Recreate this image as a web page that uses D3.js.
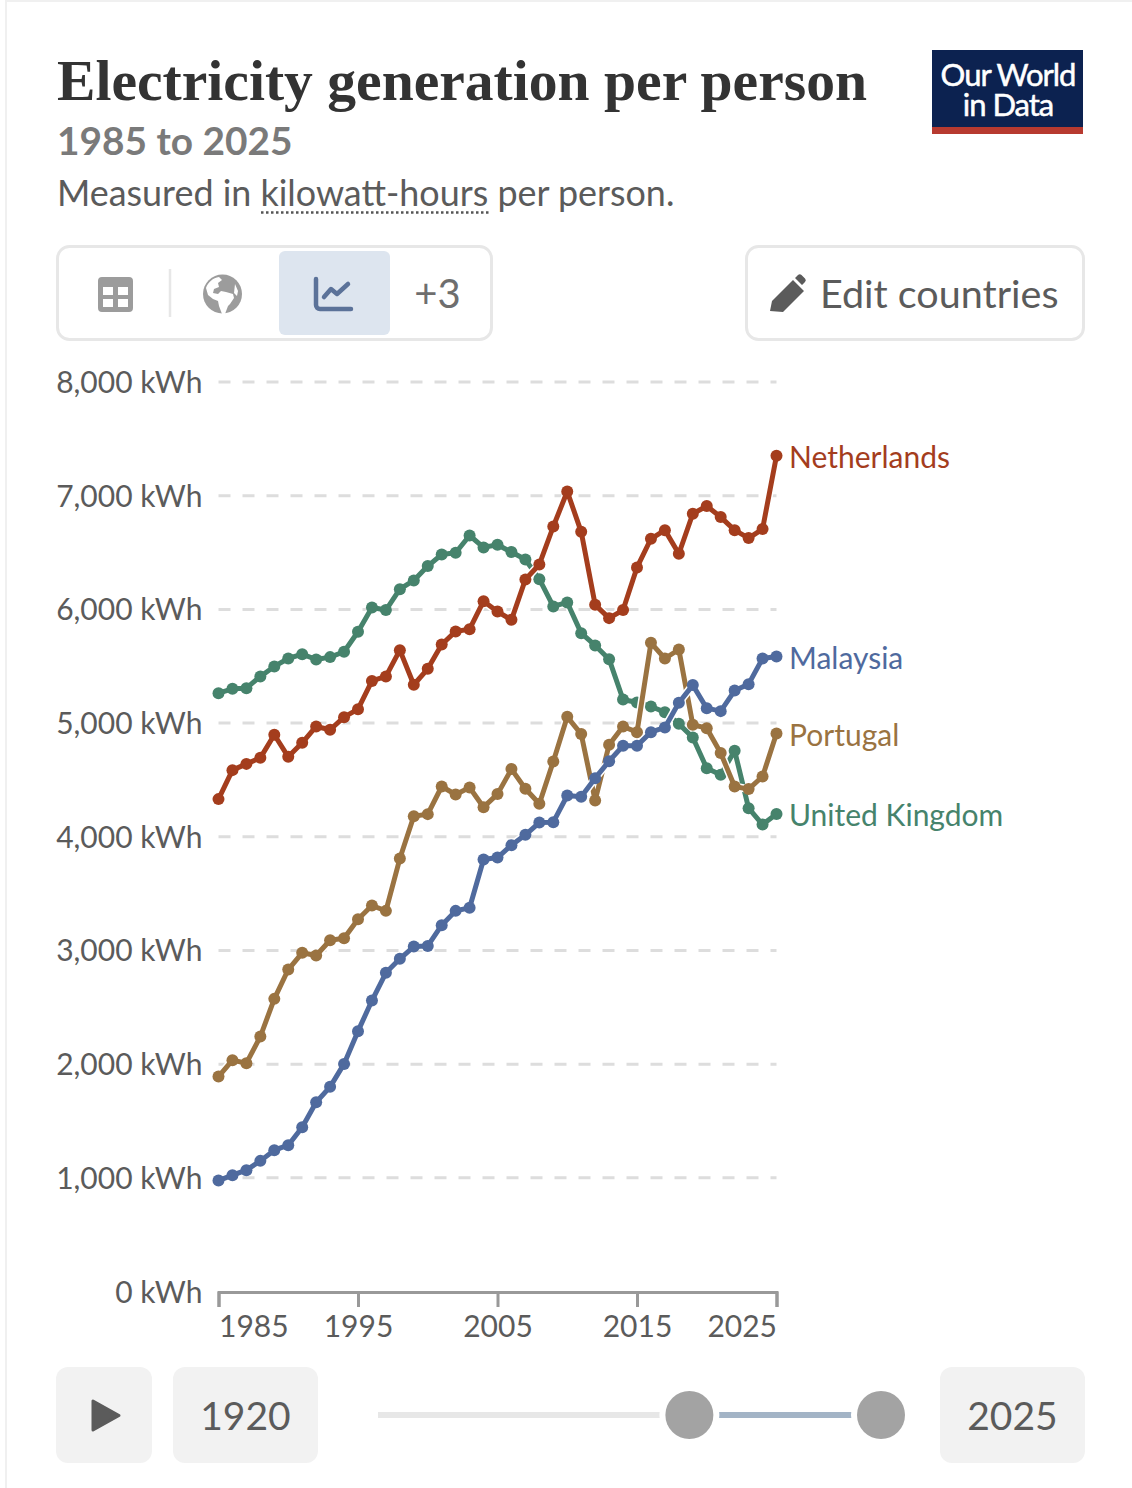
<!DOCTYPE html>
<html>
<head>
<meta charset="utf-8">
<script src="https://cdn.jsdelivr.net/npm/d3@7"></script>
<style>
  body { margin: 0; background: #fff; }
  svg { display: block; }
  text { font-family: Lato, sans-serif; }
</style>
</head>
<body>
<div id="chart"></div>
<script>
var years = [1985, 1986, 1987, 1988, 1989, 1990, 1991, 1992, 1993, 1994, 1995, 1996, 1997, 1998,
    1999, 2000, 2001, 2002, 2003, 2004, 2005, 2006, 2007, 2008, 2009, 2010, 2011, 2012, 2013,
    2014, 2015, 2016, 2017, 2018, 2019, 2020, 2021, 2022, 2023, 2024, 2025];

var unitedKingdom = [5263, 5301, 5307, 5410, 5498, 5568, 5606, 5559, 5580, 5627, 5803, 6017, 5994, 6178,
    6254, 6381, 6483, 6498, 6650, 6545, 6568, 6504, 6439, 6266, 6026, 6061, 5791, 5683, 5562,
    5207, 5181, 5146, 5096, 4993, 4873, 4603, 4545, 4756, 4251, 4107, 4201];
var portugal = [1891, 2035, 2008, 2243, 2574, 2832, 2979, 2955, 3090, 3108, 3275, 3395, 3348, 3808,
    4181, 4199, 4442, 4372, 4433, 4260, 4375, 4595, 4422, 4290, 4662, 5055, 4903, 4319, 4809,
    4970, 4920, 5706, 5568, 5647, 4985, 4955, 4736, 4442, 4419, 4530, 4908];
var malaysia = [976, 1023, 1067, 1149, 1243, 1287, 1445, 1665, 1800, 2002, 2290, 2559, 2803, 2926,
    3034, 3040, 3222, 3348, 3375, 3800, 3817, 3926, 4017, 4125, 4128, 4363, 4351, 4515, 4665,
    4800, 4800, 4920, 4961, 5178, 5334, 5131, 5105, 5286, 5342, 5568, 5586];
var netherlands = [4331, 4586, 4641, 4694, 4897, 4703, 4826, 4970, 4941, 5052, 5122, 5371, 5410, 5641,
    5337, 5477, 5691, 5806, 5826, 6072, 5981, 5908, 6263, 6395, 6729, 7037, 6682, 6040, 5923,
    5994, 6369, 6621, 6697, 6489, 6841, 6909, 6812, 6697, 6627, 6706, 7351];

var yTicks = [0, 1000, 2000, 3000, 4000, 5000, 6000, 7000, 8000];
var xTicks = [1985, 1995, 2005, 2015, 2025];

var seriesNames = ["United Kingdom", "Portugal", "Malaysia", "Netherlands"];
var seriesValues = [unitedKingdom, portugal, malaysia, netherlands];
var seriesColors = ["#46836c", "#9a7341", "#4f6a9e", "#a43d1d"];

var startYear = 1920;
var endYear = 2025;

var width = 1132;
var height = 1488;
var textColor = "#5b5b5b";
var boxStroke = "#e7e7e7";
var buttonFill = "#f2f2f2";

var svg = d3.select("#chart")
    .append("svg")
    .attr("width", width)
    .attr("height", height);

// marco de la tarjeta
svg.append("path")
    .attr("d", "M6 1488V1H1132")
    .attr("fill", "none")
    .attr("stroke", "#f0f0f0")
    .attr("stroke-width", 2);

// Título
svg.append("text")
    .attr("x", 57)
    .attr("y", 100)
    .attr("textLength", 810)
    .attr("lengthAdjust", "spacingAndGlyphs")
    .style("font-family", "'Liberation Serif', serif")
    .style("font-size", "58px")
    .style("font-weight", 700)
    .style("fill", "#333333")
    .text("Electricity generation per person");

svg.append("text")
    .attr("x", 57)
    .attr("y", 155)
    .style("font-size", "38.800px")
    .style("font-weight", 700)
    .style("fill", "#7a7a7a")
    .text("1985 to 2025");

svg.append("text")
    .attr("x", 57)
    .attr("y", 206)
    .style("font-size", "35.900px")
    .style("fill", textColor)
    .text("Measured in kilowatt-hours per person.");

svg.append("line")
    .attr("x1", 261)
    .attr("x2", 489)
    .attr("y1", 212.5)
    .attr("y2", 212.5)
    .attr("stroke", "#555")
    .attr("stroke-width", 2.5)
    .attr("stroke-dasharray", "2.500,2.500");

// Logo
var logo = svg.append("g");
logo.append("rect").attr("x", 932).attr("y", 50).attr("width", 151).attr("height", 84).attr("fill", "#0c2250");
logo.append("rect").attr("x", 932).attr("y", 127).attr("width", 151).attr("height", 7).attr("fill", "#b73a30");
logo.selectAll("text")
    .data(["Our World", "in Data"])
    .enter()
    .append("text")
    .attr("x", 1008)
    .attr("y", (d, i) => 86 + i * 30)
    .attr("text-anchor", "middle")
    .style("font-size", "31px")
    .style("letter-spacing", "-1px")
    .style("fill", "#fff")
    .style("stroke", "#fff")
    .style("stroke-width", 0.5)
    .text((d) => d);

// Botones de arriba
svg.append("rect")
    .attr("x", 57.5).attr("y", 246.5).attr("width", 434).attr("height", 93).attr("rx", 12)
    .attr("fill", "#fff").attr("stroke", boxStroke).attr("stroke-width", 3);
svg.append("rect")
    .attr("x", 279).attr("y", 251).attr("width", 111).attr("height", 84).attr("rx", 6)
    .attr("fill", "#dde5ef");
svg.append("line")
    .attr("x1", 170).attr("x2", 170).attr("y1", 269).attr("y2", 317)
    .attr("stroke", boxStroke).attr("stroke-width", 2.5);

// icono tabla
svg.append("path")
    .attr("fill", "#9c9c9c")
    .attr("fill-rule", "evenodd")
    .attr("d", "M102 277h27a4 4 0 0 1 4 4v27a4 4 0 0 1-4 4h-27a4 4 0 0 1-4-4v-27a4 4 0 0 1 4-4z"
        + "M103 287v8h10v-8zM118 287v8h10v-8zM103 299v8h10v-8zM118 299v8h10v-8z");

// icono globo
svg.append("circle").attr("cx", 222.5).attr("cy", 294).attr("r", 19.5).attr("fill", "#9c9c9c");
svg.append("path")
    .attr("fill", "#fff")
    .attr("d", "M206 288c2-6 7-10 13-11l3 3-4 3 1 4-5 2-1 4 5 1 3-3 5 1 7 2 1 4-4 6-2 2-3 8-3 0-3-8-1-5-5-2-5-4z"
        + "M235 284l3 7-1 5-3-3z");

// icono gráfico
svg.append("path")
    .attr("fill", "none")
    .attr("stroke", "#5b7299")
    .attr("stroke-width", 4.5)
    .attr("stroke-linecap", "round")
    .attr("stroke-linejoin", "round")
    .attr("d", "M316 279v26a4 4 0 0 0 4 4h31M324 297l7-8 6 5 11-10");

svg.append("text")
    .attr("x", 437.5)
    .attr("y", 308)
    .attr("text-anchor", "middle")
    .style("font-size", "40px")
    .style("fill", "#6e6e6e")
    .text("+3");

svg.append("rect")
    .attr("x", 746.5).attr("y", 246.5).attr("width", 337).attr("height", 93).attr("rx", 12)
    .attr("fill", "#fff").attr("stroke", boxStroke).attr("stroke-width", 3);

// icono lápiz
svg.append("path")
    .attr("fill", textColor)
    .attr("d", "M770 311l2-10 21-21 11 11-21 21z M795 278l3-3a2.5 2.5 0 0 1 3.500 0l3.500 3.500a2.500 2.500 0 0 1 0 3.500l-3 3z");

svg.append("text")
    .attr("x", 820)
    .attr("y", 308)
    .style("font-size", "39.500px")
    .style("fill", textColor)
    .text("Edit countries");

// Escalas
var xscale = d3.scaleLinear()
    .domain([1985, 2025])
    .range([218.5, 776.5]);

var yscale = d3.scaleLinear()
    .domain([0, 8000])
    .range([1291.5, 382]);

// Rejilla
svg.append("g")
    .selectAll("line")
    .data(yTicks.filter((d) => d > 0))
    .enter()
    .append("line")
    .attr("x1", xscale(1985))
    .attr("x2", xscale(2025))
    .attr("y1", (d) => yscale(d))
    .attr("y2", (d) => yscale(d))
    .attr("stroke", "#dddddd")
    .attr("stroke-width", 3)
    .attr("stroke-dasharray", "12,12");

// Eje Y
var yaxis = d3.axisLeft(yscale)
    .tickValues(yTicks)
    .tickSize(0)
    .tickPadding(0)
    .tickFormat((d) => d3.format(",")(d) + " kWh");

var yg = svg.append("g")
    .attr("transform", "translate(202.5,0)")
    .call(yaxis);
yg.select(".domain").remove();
yg.selectAll("text")
    .attr("dy", "0.35em")
    .style("font-family", "Lato, sans-serif")
    .style("font-size", "30px")
    .style("fill", textColor);

// Eje X
var xaxis = d3.axisBottom(xscale)
    .tickValues(xTicks)
    .tickSize(15)
    .tickSizeOuter(15)
    .tickPadding(9)
    .tickFormat(d3.format("d"));

var xg = svg.append("g")
    .attr("transform", "translate(0,1292)")
    .call(xaxis);
xg.select(".domain").attr("stroke", "#999").attr("stroke-width", 3);
xg.selectAll(".tick line").attr("stroke", "#999").attr("stroke-width", 3);
xg.selectAll("text")
    .style("font-family", "Lato, sans-serif")
    .style("font-size", "30px")
    .style("fill", textColor)
    .attr("text-anchor", (d) => d === 1985 ? "start" : d === 2025 ? "end" : "middle");

// Líneas
var line = d3.line()
    .x((d) => xscale(d.year))
    .y((d) => yscale(d.value));

seriesNames.forEach((name, s) => {
    var rows = years.map((year, i) => ({ year: year, value: seriesValues[s][i] }));
    var g = svg.append("g");

    g.append("path")
        .datum(rows)
        .attr("d", line)
        .attr("fill", "none")
        .attr("stroke", "#fff")
        .attr("stroke-width", 8)
        .attr("stroke-linejoin", "round");

    g.append("path")
        .datum(rows)
        .attr("d", line)
        .attr("fill", "none")
        .attr("stroke", seriesColors[s])
        .attr("stroke-width", 5)
        .attr("stroke-linejoin", "round");

    g.selectAll("circle")
        .data(rows)
        .enter()
        .append("circle")
        .attr("cx", (d) => xscale(d.year))
        .attr("cy", (d) => yscale(d.value))
        .attr("r", 6)
        .attr("fill", seriesColors[s]);

    g.append("text")
        .attr("x", xscale(2025) + 12.5)
        .attr("y", yscale(rows[rows.length - 1].value))
        .attr("dy", "0.41em")
        .style("font-size", "30px")
        .style("fill", seriesColors[s])
        .text(name);
});

// Controles de abajo
svg.append("rect")
    .attr("x", 56).attr("y", 1367).attr("width", 96).attr("height", 96).attr("rx", 12)
    .attr("fill", buttonFill);
svg.append("path")
    .attr("fill", textColor)
    .attr("stroke", textColor)
    .attr("stroke-width", 3)
    .attr("stroke-linejoin", "round")
    .attr("d", "M93 1401v29l26-14.500z");

var yearBoxes = [[173, startYear], [940, endYear]];
svg.selectAll(".yearBox")
    .data(yearBoxes)
    .enter()
    .append("rect")
    .attr("class", "yearBox")
    .attr("x", (d) => d[0])
    .attr("y", 1367)
    .attr("width", 145)
    .attr("height", 96)
    .attr("rx", 12)
    .attr("fill", buttonFill);
svg.selectAll(".yearText")
    .data(yearBoxes)
    .enter()
    .append("text")
    .attr("class", "yearText")
    .attr("x", (d) => d[0] + 72.5)
    .attr("y", 1430)
    .attr("text-anchor", "middle")
    .style("font-size", "39px")
    .style("fill", textColor)
    .text((d) => d[1]);

var slider = d3.scaleLinear()
    .domain([startYear, endYear])
    .range([378, 881]);

svg.append("line")
    .attr("x1", slider(startYear)).attr("x2", slider(endYear))
    .attr("y1", 1415).attr("y2", 1415)
    .attr("stroke", "#e7e7e7").attr("stroke-width", 6);
svg.append("line")
    .attr("x1", slider(years[0])).attr("x2", slider(years[years.length - 1]))
    .attr("y1", 1415).attr("y2", 1415)
    .attr("stroke", "#a3b4c6").attr("stroke-width", 6);
svg.selectAll(".handle")
    .data([years[0], years[years.length - 1]])
    .enter()
    .append("circle")
    .attr("class", "handle")
    .attr("cx", (d) => slider(d))
    .attr("cy", 1415)
    .attr("r", 24)
    .attr("fill", "#a3a3a3")
    .attr("stroke", "#fff")
    .attr("stroke-width", 12)
    .style("paint-order", "stroke");
</script>
</body>
</html>
